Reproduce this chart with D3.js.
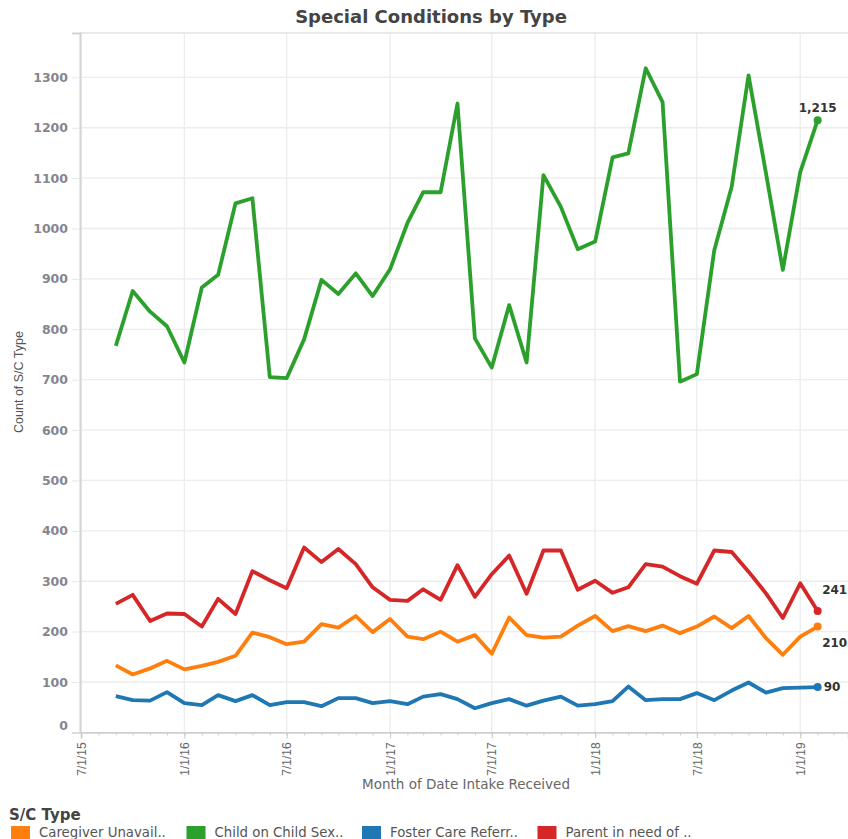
<!DOCTYPE html>
<html>
<head>
<meta charset="utf-8">
<script src="https://cdn.jsdelivr.net/npm/d3@7"></script>
<style>
  body { margin: 0; background: #fff; }
  svg { display: block; }
</style>
</head>
<body>
<svg></svg>
<script>
// monthly categories, Sep 2015 .. Feb 2019
let months = [
  '2015-09','2015-10','2015-11','2015-12',
  '2016-01','2016-02','2016-03','2016-04','2016-05','2016-06','2016-07','2016-08','2016-09','2016-10','2016-11','2016-12',
  '2017-01','2017-02','2017-03','2017-04','2017-05','2017-06','2017-07','2017-08','2017-09','2017-10','2017-11','2017-12',
  '2018-01','2018-02','2018-03','2018-04','2018-05','2018-06','2018-07','2018-08','2018-09','2018-10','2018-11','2018-12',
  '2019-01','2019-02'
]

let caregiverUnavail = [
  133, 115, 127, 142,
  125, 132, 140, 152, 198, 189, 175, 180, 215, 208, 231, 199,
  225, 190, 185, 200, 180, 193, 156, 228, 193, 188, 190, 212,
  231, 201, 211, 201, 212, 197, 210, 230, 207, 231, 187, 154,
  190, 210
]
let childOnChild = [
  767, 876, 835, 806,
  734, 883, 908, 1050, 1060, 705, 703, 780, 898, 870, 911, 866,
  919, 1011, 1072, 1072, 1248, 782, 724, 848, 734, 1106, 1043, 959,
  974, 1141, 1149, 1318, 1251, 696, 711, 957, 1083, 1304, 1110, 918,
  1112, 1215
]
let fosterCare = [
  72, 64, 63, 80,
  58, 54, 74, 62, 74, 54, 60, 60, 52, 68, 68, 58,
  62, 56, 71, 76, 66, 48, 58, 66, 53, 63, 71, 53,
  56, 62, 91, 64, 66, 66, 78, 64, 83, 99, 79, 88,
  89, 90
]
let parentInNeed = [
  255, 273, 221, 236,
  235, 210, 265, 235, 320, 302, 286, 367, 338, 364, 334, 288,
  263, 261, 284, 263, 332, 269, 314, 351, 275, 361, 361, 283,
  301, 277, 288, 334, 329, 310, 295, 361, 358, 319, 276, 227,
  296, 241
]

let seriesNames = ['Caregiver Unavail..', 'Child on Child Sex..', 'Foster Care Referr..', 'Parent in need of ..']
let seriesColors = ['#ff7f0e', '#2ca02c', '#1f77b4', '#d62728']
let yTicks = [0, 100, 200, 300, 400, 500, 600, 700, 800, 900, 1000, 1100, 1200, 1300]

let width = 848
let height = 839
let plotTop = 33
let plotBottom = 732.4
let plotLeft = 80

let parseMonth = d3.timeParse('%Y-%m')
let dates = months.map(parseMonth)
let allSeries = [caregiverUnavail, childOnChild, fosterCare, parentInNeed]

let svg = d3.select('svg')
    .attr('width', width)
    .attr('height', height)

let xScale = d3.scaleTime()
    .domain([new Date(2015, 6, 1), new Date(2019, 2, 27)])
    .range([81, width])

let yScale = d3.scaleLinear()
    .domain([0, 1388])
    .range([plotBottom, plotTop])

// gridlines
let majorDates = xScale.ticks(d3.timeMonth.every(6))

svg.append('g')
    .selectAll('line')
    .data(yTicks.filter(d => d > 0))
    .join('line')
    .attr('x1', plotLeft)
    .attr('x2', width)
    .attr('y1', d => yScale(d))
    .attr('y2', d => yScale(d))
    .attr('stroke', '#ececec')
    .attr('stroke-width', 1.3)

svg.append('g')
    .selectAll('line')
    .data(majorDates)
    .join('line')
    .attr('x1', d => xScale(d))
    .attr('x2', d => xScale(d))
    .attr('y1', plotTop)
    .attr('y2', plotBottom)
    .attr('stroke', '#ececec')
    .attr('stroke-width', 1.3)

svg.append('line')
    .attr('x1', plotLeft).attr('x2', width)
    .attr('y1', plotTop).attr('y2', plotTop)
    .attr('stroke', '#e3e3e3')
    .attr('stroke-width', 1.3)

// y axis
let yAxis = d3.axisLeft(yScale)
    .tickValues(yTicks)
    .tickFormat(d3.format('d'))
    .tickSize(8)
    .tickPadding(4)

let yG = svg.append('g')
    .attr('transform', 'translate(' + plotLeft + ',0)')
    .call(yAxis)
yG.select('.domain').attr('stroke', '#d4d4d4').attr('stroke-width', 2)
yG.selectAll('.tick line').attr('stroke', '#e6e6e6')
yG.selectAll('.tick text')
    .attr('fill', '#85858f')
    .style('font-family', 'DejaVu Sans')
    .style('font-weight', 'bold')
    .style('font-size', '12.5px')
yG.selectAll('.tick text').filter(d => d === 0).attr('dy', '-0.25em')

// x axis: minor monthly ticks then the labelled half-year ticks
let minorAxis = d3.axisBottom(xScale)
    .ticks(d3.timeMonth.every(1))
    .tickSize(3)
    .tickFormat('')
let minorG = svg.append('g')
    .attr('transform', 'translate(0,' + plotBottom + ')')
    .call(minorAxis)
minorG.select('.domain').remove()
minorG.selectAll('.tick line').attr('stroke', '#c8c8c8')

let xAxis = d3.axisBottom(xScale)
    .ticks(d3.timeMonth.every(6))
    .tickSize(6)
    .tickFormat(d3.timeFormat('%-m/%-d/%y'))

let xG = svg.append('g')
    .attr('transform', 'translate(0,' + plotBottom + ')')
    .call(xAxis)
xG.select('.domain').attr('stroke', '#cfcfcf').attr('stroke-width', 1.6)
xG.selectAll('.tick line').attr('stroke', '#c8c8c8')
xG.selectAll('.tick text')
    .attr('transform', 'rotate(-90)')
    .attr('text-anchor', 'end')
    .attr('x', -10)
    .attr('y', 0)
    .attr('dy', '0.35em')
    .attr('fill', '#666')
    .style('font-family', 'Liberation Sans, Arial, sans-serif')
    .style('font-size', '12px')

// lines
let line = d3.line()
    .x((d, i) => xScale(dates[i]))
    .y(d => yScale(d))

svg.append('g')
    .selectAll('path')
    .data(allSeries)
    .join('path')
    .attr('d', d => line(d))
    .attr('fill', 'none')
    .attr('stroke', (d, i) => seriesColors[i])
    .attr('stroke-width', 3.8)
    .attr('stroke-linejoin', 'round')

// end points and labels
let last = dates.length - 1
let labelPlace = [
  { dx: 4.5, dy: 16, anchor: 'start' },
  { dx: 0, dy: -12, anchor: 'middle' },
  { dx: 6, dy: 0, anchor: 'start' },
  { dx: 4.5, dy: -21, anchor: 'start' }
]

svg.append('g')
    .selectAll('circle')
    .data(allSeries)
    .join('circle')
    .attr('cx', xScale(dates[last]))
    .attr('cy', d => yScale(d[last]))
    .attr('r', 4)
    .attr('fill', (d, i) => seriesColors[i])

svg.append('g')
    .selectAll('text')
    .data(allSeries)
    .join('text')
    .attr('x', (d, i) => xScale(dates[last]) + labelPlace[i].dx)
    .attr('y', (d, i) => yScale(d[last]) + labelPlace[i].dy)
    .attr('dy', '0.35em')
    .attr('text-anchor', (d, i) => labelPlace[i].anchor)
    .attr('fill', '#333')
    .style('font-family', 'DejaVu Sans')
    .style('font-weight', 'bold')
    .style('font-size', '12px')
    .text(d => d3.format(',')(d[last]))

// titles
svg.append('text')
    .attr('x', 431)
    .attr('y', 23)
    .attr('text-anchor', 'middle')
    .attr('fill', '#444')
    .style('font-family', 'DejaVu Sans')
    .style('font-weight', 'bold')
    .style('font-size', '18px')
    .text('Special Conditions by Type')

svg.append('text')
    .attr('transform', 'translate(23,382) rotate(-90)')
    .attr('text-anchor', 'middle')
    .attr('fill', '#555')
    .style('font-family', 'Liberation Sans, Arial, sans-serif')
    .style('font-size', '12.5px')
    .text('Count of S/C Type')

svg.append('text')
    .attr('x', 466)
    .attr('y', 789)
    .attr('text-anchor', 'middle')
    .attr('fill', '#666')
    .style('font-family', 'DejaVu Sans')
    .style('font-size', '13.5px')
    .text('Month of Date Intake Received')

// legend
let legend = svg.append('g')

legend.append('text')
    .attr('x', 9)
    .attr('y', 820)
    .attr('fill', '#444')
    .style('font-family', 'DejaVu Sans')
    .style('font-weight', 'bold')
    .style('font-size', '15px')
    .text('S/C Type')

let items = legend.selectAll('g.item')
    .data(seriesNames)
    .join('g')
    .attr('class', 'item')
    .attr('transform', (d, i) => 'translate(' + (11 + i * 175.5) + ',826)')

items.append('rect')
    .attr('width', 19)
    .attr('height', 16)
    .attr('fill', (d, i) => seriesColors[i])

items.append('text')
    .attr('x', 28)
    .attr('y', 10.5)
    .attr('fill', '#555')
    .style('font-family', 'DejaVu Sans')
    .style('font-size', '13.3px')
    .text(d => d)
</script>
</body>
</html>
